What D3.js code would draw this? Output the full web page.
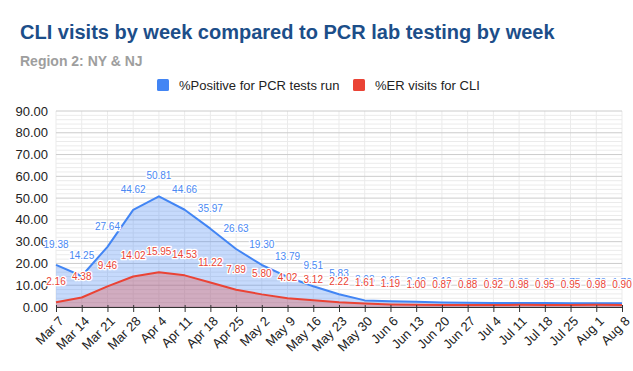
<!DOCTYPE html>
<html>
<head>
<meta charset="utf-8">
<script src="https://cdn.jsdelivr.net/npm/d3@7"></script>
<style>
  body { margin: 0; background: #fff; }
  text { font-family: Arial, "Liberation Sans", sans-serif; }
</style>
</head>
<body>
<div id="chart"></div>
<script>
// data
var weeks = ["Mar 7", "Mar 14", "Mar 21", "Mar 28", "Apr 4", "Apr 11", "Apr 18", "Apr 25",
  "May 2", "May 9", "May 16", "May 23", "May 30", "Jun 6", "Jun 13", "Jun 20", "Jun 27",
  "Jul 4", "Jul 11", "Jul 18", "Jul 25", "Aug 1", "Aug 8"];

var pcrPositive = [19.38, 14.25, 27.64, 44.62, 50.81, 44.66, 35.97, 26.63, 19.30, 13.79, 9.51,
  5.83, 3.03, 2.65, 2.40, 2.10, 1.95, 1.85, 1.80, 1.80, 1.75, 1.70, 1.70];

var erVisits = [2.16, 4.38, 9.46, 14.02, 15.95, 14.53, 11.22, 7.89, 5.80, 4.02, 3.12,
  2.22, 1.61, 1.19, 1.00, 0.87, 0.88, 0.92, 0.98, 0.95, 0.95, 0.98, 0.90];

var yTicks = [0, 10, 20, 30, 40, 50, 60, 70, 80, 90];

var series = [
  { name: "%Positive for PCR tests run", values: pcrPositive, color: "#4285f4", label: "#4a89f3" },
  { name: "%ER visits for CLI", values: erVisits, color: "#ea4335", label: "#ea4335" }
];

var svgWidth = 633;
var svgHeight = 371;

var margin = { top: 111, right: 11, bottom: 64, left: 56 };
var width = svgWidth - margin.left - margin.right;
var height = svgHeight - margin.top - margin.bottom;

var svg = d3.select("#chart")
  .append("svg")
  .attr("width", svgWidth)
  .attr("height", svgHeight);

// title + subtitle
svg.append("text")
  .attr("x", 20)
  .attr("y", 39)
  .attr("fill", "#1c4e89")
  .attr("font-size", "20px")
  .attr("font-weight", "bold")
  .text("CLI visits by week compared to PCR lab testing by week");

svg.append("text")
  .attr("x", 20)
  .attr("y", 66)
  .attr("fill", "#9e9e9e")
  .attr("font-size", "14px")
  .attr("font-weight", "bold")
  .text("Region 2: NY & NJ");

// legend
var legendX = [157, 353];
var legend = svg.selectAll(".legend")
  .data(series)
  .enter()
  .append("g")
  .attr("class", "legend")
  .attr("transform", (d, i) => `translate(${legendX[i]}, 79)`);

legend.append("rect")
  .attr("width", 12)
  .attr("height", 12)
  .attr("rx", 1.5)
  .attr("fill", d => d.color);

legend.append("text")
  .attr("x", 22)
  .attr("y", 10.5)
  .attr("font-size", "13px")
  .attr("fill", "#222")
  .text(d => d.name);

var chartG = svg.append("g")
  .attr("transform", `translate(${margin.left}, ${margin.top})`);

var xScale = d3.scalePoint()
  .domain(weeks)
  .range([0, width]);

var yScale = d3.scaleLinear()
  .domain([0, 90])
  .range([height, 0]);

// minor gridlines every 2, major every 10
var minorTicks = d3.range(0, 91, 2).filter(v => v % 10 !== 0);
chartG.append("g")
  .selectAll("line")
  .data(minorTicks)
  .enter()
  .append("line")
  .attr("x1", 0)
  .attr("x2", width)
  .attr("y1", d => yScale(d))
  .attr("y2", d => yScale(d))
  .attr("stroke", "#ebebeb")
  .attr("stroke-width", 1);

chartG.append("g")
  .selectAll("line")
  .data(weeks)
  .enter()
  .append("line")
  .attr("x1", d => xScale(d))
  .attr("x2", d => xScale(d))
  .attr("y1", 0)
  .attr("y2", height)
  .attr("stroke", "#ebebeb")
  .attr("stroke-width", 1);

chartG.append("g")
  .selectAll("line")
  .data(yTicks)
  .enter()
  .append("line")
  .attr("x1", 0)
  .attr("x2", width)
  .attr("y1", d => yScale(d))
  .attr("y2", d => yScale(d))
  .attr("stroke", "#cccccc")
  .attr("stroke-width", 1);

// y axis labels
chartG.append("g")
  .selectAll("text")
  .data(yTicks)
  .enter()
  .append("text")
  .attr("x", -8)
  .attr("y", d => yScale(d))
  .attr("dy", "0.35em")
  .attr("text-anchor", "end")
  .attr("font-size", "13px")
  .attr("fill", "#222")
  .text(d => d.toFixed(2));

// areas + lines
var area = d3.area()
  .x((d, i) => xScale(weeks[i]))
  .y0(height)
  .y1(d => yScale(d));

var line = d3.line()
  .x((d, i) => xScale(weeks[i]))
  .y(d => yScale(d));

series.forEach(function(s) {
  chartG.append("path")
    .datum(s.values)
    .attr("d", area)
    .attr("fill", s.color)
    .attr("fill-opacity", 0.3);
});

series.forEach(function(s) {
  chartG.append("path")
    .datum(s.values)
    .attr("d", line)
    .attr("fill", "none")
    .attr("stroke", s.color)
    .attr("stroke-width", 2)
    .attr("stroke-linejoin", "round");
});

// x axis
var bottomAxis = d3.axisBottom(xScale).tickSize(5).tickSizeOuter(0);
var xAxis = chartG.append("g")
  .attr("transform", `translate(0, ${height})`)
  .call(bottomAxis);

xAxis.select(".domain").attr("stroke", "#333").attr("stroke-width", 1.2);
xAxis.selectAll(".tick line").attr("stroke", "#333").attr("y1", -2);
xAxis.selectAll(".tick text")
  .attr("font-family", "Arial, 'Liberation Sans', sans-serif")
  .attr("font-size", "13px")
  .attr("fill", "#222")
  .attr("text-anchor", "end")
  .attr("x", 0)
  .attr("y", 0)
  .attr("dy", 0)
  .attr("transform", "translate(8, 15) rotate(-45)");

// data labels, blue first so red sits on top
series.forEach(function(s) {
  chartG.append("g")
    .selectAll("text")
    .data(s.values)
    .enter()
    .append("text")
    .attr("x", (d, i) => xScale(weeks[i]))
    .attr("y", d => yScale(d) - 17)
    .attr("text-anchor", "middle")
    .attr("font-size", "10px")
    .attr("fill", s.label)
    .attr("stroke", "#fff")
    .attr("stroke-width", 2.5)
    .attr("stroke-linejoin", "round")
    .attr("paint-order", "stroke")
    .text(d => d.toFixed(2));
});
</script>
</body>
</html>
